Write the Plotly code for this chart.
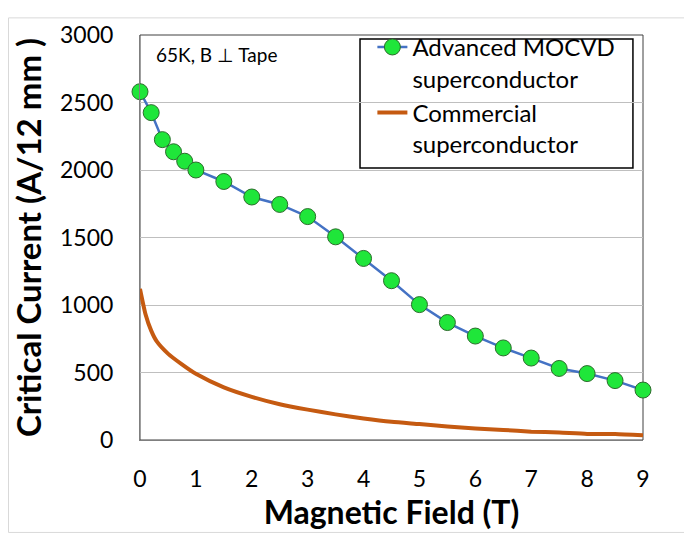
import plotly.graph_objects as go

# Advanced MOCVD superconductor
adv_field = [0, 0.2, 0.4, 0.6, 0.8, 1.0, 1.5, 2.0, 2.5, 3.0, 3.5, 4.0, 4.5, 5.0, 5.5, 6.0, 6.5, 7.0, 7.5, 8.0, 8.5, 9.0]
adv_ic = [2580, 2425, 2225, 2135, 2065, 2000, 1915, 1800, 1745, 1655, 1505, 1345, 1180, 1003, 870, 770, 682, 607, 530, 492, 440, 370]

# Commercial superconductor
com_field = [0, 0.1, 0.2, 0.3, 0.5, 0.75, 1.0, 1.5, 2.0, 2.5, 3.0, 3.5, 4.0, 4.5, 5.0, 5.5, 6.0, 6.5, 7.0, 7.5, 8.0, 8.5, 9.0]
com_ic = [1120, 930, 810, 730, 640, 560, 490, 390, 320, 265, 225, 190, 160, 135, 118, 100, 85, 75, 62, 55, 45, 45, 35]

x_ticks = [0, 1, 2, 3, 4, 5, 6, 7, 8, 9]
y_ticks = [0, 500, 1000, 1500, 2000, 2500, 3000]

FONT = "Lato"

fig = go.Figure()
fig.add_trace(go.Scatter(
    x=adv_field, y=adv_ic, mode="lines+markers",
    name="Advanced MOCVD<br>superconductor",
    line=dict(color="#4472C4", width=2.5),
    marker=dict(color="#1FE63A", size=16, line=dict(color="#2D6B2D", width=1)),
    cliponaxis=False,
))
fig.add_trace(go.Scatter(
    x=com_field, y=com_ic, mode="lines",
    name="Commercial<br>superconductor",
    line=dict(color="#C55A11", width=4, shape="spline", smoothing=0.6),
    cliponaxis=False,
))

fig.update_layout(
    width=684, height=527,
    margin=dict(l=132, r=49, t=18, b=95),
    paper_bgcolor="white", plot_bgcolor="white",
    font=dict(family=FONT, color="black"),
    showlegend=True,
    legend=dict(
        x=0.462, y=1.025, xanchor="left", yanchor="top",
        bgcolor="rgba(0,0,0,0)", borderwidth=0,
        font=dict(family=FONT, size=24, color="black"),
        valign="top", tracegroupgap=0,
    ),
    xaxis=dict(
        range=[0, 9], tickvals=x_ticks, ticktext=[str(v) for v in x_ticks],
        showgrid=False, zeroline=False,
        showline=True, linecolor="#7f7f7f", linewidth=1,
        ticks="", ticklabelstandoff=18,
        tickfont=dict(family=FONT, size=23),
        title=dict(text="<b>Magnetic Field (T)</b>", font=dict(family=FONT, size=32), standoff=6),
    ),
    yaxis=dict(
        range=[0, 3000], tickvals=y_ticks, ticktext=[str(v) for v in y_ticks],
        showgrid=True, gridcolor="#BFBFBF", gridwidth=1, zeroline=False,
        showline=True, linecolor="#7f7f7f", linewidth=1,
        ticks="", ticklabelstandoff=21,
        tickfont=dict(family=FONT, size=23),
        title=dict(text="<b>Critical Current (A/12 mm )</b>", font=dict(family=FONT, size=33), standoff=10),
    ),
    annotations=[dict(
        text="65K, B \u22a5 Tape", xref="paper", yref="paper",
        x=0.028, y=0.953, xanchor="left", yanchor="middle", showarrow=False,
        font=dict(family=FONT, size=19, color="black"),
    )],
    shapes=[
        dict(type="rect", xref="paper", yref="paper", x0=0, y0=0, x1=1, y1=1,
             line=dict(color="#404040", width=1), layer="below"),
        dict(type="rect", xref="paper", yref="paper", x0=0.4374, y0=0.6715, x1=0.980, y1=0.990,
             line=dict(color="black", width=1.5), fillcolor="white", layer="below"),
        dict(type="rect", xref="paper", yref="paper",
             x0=-131.5 / 503, y0=-94.5 / 414, x1=1 + 47 / 503, y1=1 + 17.5 / 414,
             line=dict(color="#D9D9D9", width=1), layer="below"),
    ],
)

fig.write_html("out.html")
